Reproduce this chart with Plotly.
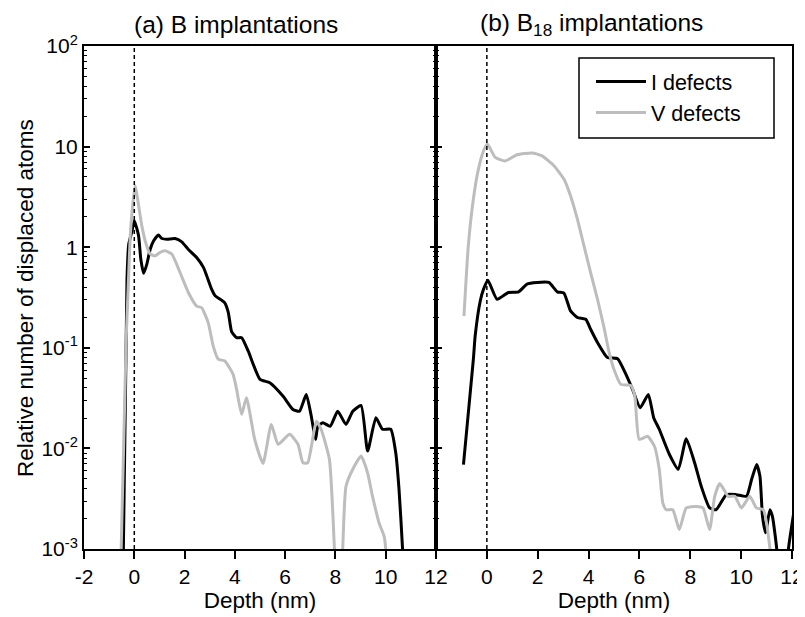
import plotly.graph_objects as go

# ---------------- data ----------------
# (a) B implantations
a_I_depth = [-0.45, -0.29, -0.22, -0.09, 0.0, 0.17, 0.26, 0.37, 0.5, 0.63, 0.77, 0.96, 1.1, 1.3,
             1.62, 1.89, 2.15, 2.48, 2.75, 2.88, 3.08, 3.21, 3.6, 3.74, 3.87, 4.07, 4.27, 4.53,
             5.0, 5.39, 5.92, 6.31, 6.57, 6.84, 7.04, 7.21, 7.3, 7.5, 7.79, 8.09, 8.42, 8.69,
             9.02, 9.28, 9.61, 9.87, 10.2, 10.4, 10.53, 10.67, 10.72]
a_I_val = [0.0005, 0.48, 1.07, 1.45, 1.83, 1.30, 0.76, 0.55, 0.68, 0.95, 1.16, 1.32, 1.22, 1.20,
           1.22, 1.13, 0.95, 0.79, 0.63, 0.52, 0.38, 0.33, 0.28, 0.224, 0.145, 0.126, 0.126, 0.093,
           0.0485, 0.045, 0.033, 0.0244, 0.0234, 0.0344, 0.0209, 0.0123, 0.0166, 0.018, 0.0166,
           0.0234, 0.0173, 0.0234, 0.0267, 0.0094, 0.0202, 0.0155, 0.0155, 0.009, 0.0039, 0.001,
           0.0005]

a_V_depth = [-0.55, -0.32, -0.25, -0.16, -0.05, 0.04, 0.15, 0.3, 0.45, 0.63, 0.83, 1.03, 1.23,
             1.49, 1.82, 2.15, 2.48, 2.68, 2.94, 3.14, 3.34, 3.6, 3.93, 4.07, 4.27, 4.46, 4.79,
             5.12, 5.45, 5.72, 6.18, 6.51, 6.71, 6.9, 7.24, 7.43, 7.76, 7.96, 8.0, 8.12, 8.25,
             8.29, 8.42, 8.69, 9.02, 9.28, 9.48, 9.74, 9.94, 10.0, 10.05]
a_V_val = [0.0005, 0.126, 0.355, 1.30, 2.82, 4.09, 2.82, 1.63, 1.12, 0.855, 0.82, 0.89, 0.92,
           0.855, 0.56, 0.355, 0.26, 0.25, 0.178, 0.104, 0.077, 0.074, 0.0545, 0.0386, 0.0218,
           0.0319, 0.0123, 0.0071, 0.0173, 0.011, 0.0138, 0.011, 0.0072, 0.0072, 0.0186, 0.0155,
           0.0078, 0.001, 0.0005, None, 0.0005, 0.001, 0.0042, 0.0062, 0.0084, 0.0057, 0.0033,
           0.0018, 0.00133, 0.001, 0.0005]

# (b) B18 implantations
b_I_depth = [-0.92, -0.53, -0.46, -0.26, -0.13, 0.04, 0.4, 0.85, 1.25, 1.58, 1.98, 2.44, 2.77,
             3.03, 3.29, 3.56, 3.89, 4.08, 4.35, 4.74, 5.14, 5.47, 5.73, 6.03, 6.35, 6.56, 6.78,
             7.18, 7.53, 7.84, 8.17, 8.43, 8.76, 9.02, 9.42, 9.81, 10.21, 10.41, 10.61, 10.74,
             10.84, 10.96, 11.13, 11.23, 11.4, 11.45, 11.6, 11.8, 11.86, 12.1]
b_I_val = [0.0069, 0.077, 0.131, 0.292, 0.383, 0.47, 0.304, 0.355, 0.36, 0.43, 0.446, 0.446,
           0.36, 0.35, 0.233, 0.2, 0.192, 0.153, 0.113, 0.08, 0.078, 0.0545, 0.0386, 0.0254,
           0.0344, 0.0202, 0.0155, 0.0087, 0.0062, 0.0125, 0.0072, 0.0042, 0.00256, 0.00246,
           0.00347, 0.00347, 0.00334, 0.0049, 0.0069, 0.00528, 0.00211, 0.00145, 0.00246,
           0.00211, 0.001, 0.0005, None, 0.0005, 0.001, 0.00257]

b_V_depth = [-0.9, -0.73, -0.53, -0.33, -0.13, 0.02, 0.33, 0.72, 1.19, 1.78, 2.17, 2.63, 3.03,
             3.29, 3.56, 3.82, 4.08, 4.35, 4.61, 4.81, 5.0, 5.27, 5.66, 5.82, 5.99, 6.32, 6.59,
             6.78, 6.92, 7.05, 7.31, 7.57, 7.84, 8.23, 8.5, 8.76, 8.96, 9.16, 9.49, 9.75, 10.01,
             10.34, 10.6, 10.87, 11.13, 11.2]
b_V_val = [0.207, 1.03, 3.01, 6.0, 9.1, 10.6, 7.8, 7.2, 8.3, 8.65, 8.1, 6.5, 4.76, 3.25, 1.9,
           1.03, 0.56, 0.304, 0.158, 0.0895, 0.061, 0.0433, 0.0423, 0.033, 0.0123, 0.0132,
           0.0105, 0.0062, 0.00287, 0.00246, 0.00246, 0.00156, 0.00256, 0.00265, 0.00256,
           0.00156, 0.00334, 0.00447, 0.00334, 0.00334, 0.00256, 0.00334, 0.00256, 0.00246,
           0.00102, 0.0005]

x_ticks = [-2, 0, 2, 4, 6, 8, 10, 12]
x_ticktext = ["-2", "0", "2", "4", "6", "8", "10", "12"]
x_ticks_b = [0, 2, 4, 6, 8, 10, 12]
x_ticktext_b = ["0", "2", "4", "6", "8", "10", "12"]
y_tickvals = [1e-3, 1e-2, 1e-1, 1, 10, 100]
y_ticktext = ["10<sup>-3</sup>", "10<sup>-2</sup>", "10<sup>-1</sup>", "1", "10", "10<sup>2</sup>"]
y_minor = [m * 10 ** e for e in range(-3, 2) for m in range(2, 10)]

# ---------------- figure ----------------
BLACK = "#000000"
GREY = "#bdbdbd"
FONT = "Arial, Liberation Sans, Helvetica, sans-serif"

OFF = 8  # page body margin
W, H = 805 - OFF, 617 - OFF
# plot area in window pixels: x 84..792, y 46..549
ML, MT = 84 - OFF, 46 - OFF
MR = W - (792 - OFF)
MB = H - (549 - OFF)
PW, PH = W - ML - MR, H - MT - MB


def px_x(p):
    return (p - OFF - ML) / PW


def px_y(p):
    return (H - MB - (p - OFF)) / PH


line_style = dict(width=3, shape="spline", smoothing=0.5)

fig = go.Figure()
fig.add_trace(go.Scatter(x=a_I_depth, y=a_I_val, mode="lines", xaxis="x", yaxis="y",
                         line=dict(color=BLACK, **line_style), showlegend=False, connectgaps=False))
fig.add_trace(go.Scatter(x=a_V_depth, y=a_V_val, mode="lines", xaxis="x", yaxis="y",
                         line=dict(color=GREY, **line_style), showlegend=False, connectgaps=False))
fig.add_trace(go.Scatter(x=b_I_depth, y=b_I_val, mode="lines", xaxis="x2", yaxis="y2",
                         line=dict(color=BLACK, **line_style), name="I defects", connectgaps=False))
fig.add_trace(go.Scatter(x=b_V_depth, y=b_V_val, mode="lines", xaxis="x2", yaxis="y2",
                         line=dict(color=GREY, **line_style), name="V defects", connectgaps=False))

split = px_x(436)
common_x = dict(range=[-2, 12], tickmode="array", ticks="outside", ticklen=8, tickwidth=1.5,
                tickcolor=BLACK, showline=True, linecolor=BLACK, linewidth=2, mirror=True,
                showgrid=False, zeroline=False, automargin=False,
                tickfont=dict(size=21, color=BLACK, family=FONT),
                title=dict(text="Depth (nm)", font=dict(size=22.5, color=BLACK, family=FONT),
                           standoff=4))
common_y = dict(type="log", range=[-3, 2], tickmode="array", tickvals=y_tickvals,
                ticks="inside", ticklen=6, tickwidth=1.5, tickcolor=BLACK,
                showline=True, linecolor=BLACK, linewidth=2, showgrid=False, zeroline=False,
                automargin=False,
                minor=dict(tickmode="array", tickvals=y_minor, ticks="inside", ticklen=3,
                           tickwidth=1, tickcolor=BLACK),
                tickfont=dict(size=21, color=BLACK, family=FONT))

fig.update_layout(
    width=W, height=H,
    margin=dict(l=ML, r=MR, t=MT, b=MB),
    paper_bgcolor="white", plot_bgcolor="white",
    font=dict(family=FONT, color=BLACK),
    xaxis=dict(domain=[0, split], tickvals=x_ticks, ticktext=x_ticktext, anchor="y", **common_x),
    xaxis2=dict(domain=[split, 1], tickvals=x_ticks_b, ticktext=x_ticktext_b, anchor="y2",
                **common_x),
    yaxis=dict(domain=[0, 1], anchor="x", mirror="ticks", ticktext=y_ticktext, **common_y),
    yaxis2=dict(domain=[0, 1], anchor="x2", mirror=True, showticklabels=False, **common_y),
    legend=dict(x=px_x(591), y=px_y(61), xanchor="left", yanchor="top",
                borderwidth=0, bgcolor="rgba(0,0,0,0)",
                font=dict(size=21.5, color=BLACK, family=FONT), tracegroupgap=0,
                itemwidth=50),
    showlegend=True,
)

# legend frame
fig.add_shape(type="rect", xref="paper", yref="paper",
              x0=px_x(579), x1=px_x(774), y0=px_y(138), y1=px_y(58),
              line=dict(color=BLACK, width=1.5), fillcolor="rgba(0,0,0,0)", layer="above")

# dashed reference lines at depth 0
for xr in ["x", "x2"]:
    fig.add_shape(type="line", xref=xr, yref="paper", x0=0, x1=0, y0=0, y1=1,
                  line=dict(color=BLACK, width=1.5, dash="4px,3px"))

fig.add_annotation(text="(a) B implantations", xref="paper", yref="paper",
                   x=px_x(236), y=px_y(24), xanchor="center", yanchor="middle",
                   showarrow=False, font=dict(size=24.5, color=BLACK, family=FONT))
fig.add_annotation(text="(b) B<sub>18</sub> implantations", xref="paper", yref="paper",
                   x=px_x(591), y=px_y(24), xanchor="center", yanchor="middle",
                   showarrow=False, font=dict(size=24.5, color=BLACK, family=FONT))
fig.add_annotation(text="Relative number of displaced atoms", xref="paper", yref="paper",
                   x=px_x(25), y=px_y(298), xanchor="center", yanchor="middle", textangle=-90,
                   showarrow=False, font=dict(size=22.5, color=BLACK, family=FONT))

fig.write_html("out.html")
